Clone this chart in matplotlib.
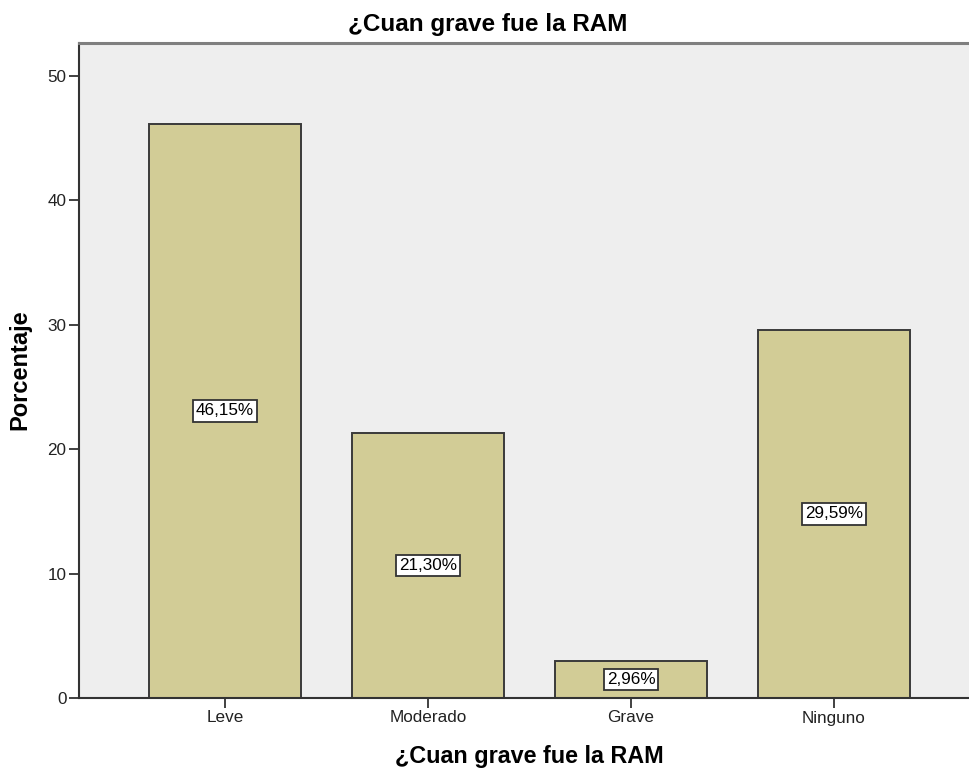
import matplotlib
matplotlib.use("Agg")
import matplotlib.pyplot as plt

categories = ["Leve", "Moderado", "Grave", "Ninguno"]
values = [46.15, 21.30, 2.96, 29.59]
labels = ["46,15%", "21,30%", "2,96%", "29,59%"]
yticks = [0, 10, 20, 30, 40, 50]
title = "¿Cuan grave fue la RAM"
xlabel = "¿Cuan grave fue la RAM"
ylabel = "Porcentaje"

plt.rcParams['font.family'] = ['Liberation Sans', 'DejaVu Sans']

fig = plt.figure(figsize=(9.7, 7.73), dpi=100)
ax = fig.add_axes([79/970, 1-698/773, 1-79/970, (698-43)/773])
ax.set_facecolor('#EEEEEE')

x = list(range(len(categories)))
ax.bar(x, values, width=0.749, color='#D2CC96', edgecolor='#3A3A3A', linewidth=1.4, zorder=2)
for xi, v, lab in zip(x, values, labels):
    ax.text(xi, v/2, lab, ha='center', va='center', fontsize=12.3, color='black', zorder=3,
            bbox=dict(boxstyle='square,pad=0.18', facecolor='white', edgecolor='#333333', linewidth=1.3))

ax.set_xlim(-0.719, 3.67)
ax.set_ylim(0, 52.65)
ax.set_yticks(yticks)
ax.set_xticks(x)
ax.set_xticklabels(categories, fontsize=12.3)
ax.tick_params(axis='y', labelsize=12.3, length=7, width=1.3, color='#333333', labelcolor='#222222', pad=2)
ax.tick_params(axis='x', length=7, width=1.3, color='#333333', labelcolor='#222222', pad=2)

ax.spines['right'].set_visible(False)
ax.spines['top'].set_color('#7F7F7F')
ax.spines['top'].set_linewidth(2.2)
ax.spines['left'].set_color('#333333')
ax.spines['left'].set_linewidth(1.5)
ax.spines['bottom'].set_color('#333333')
ax.spines['bottom'].set_linewidth(1.5)

fig.text(488/970, 1-24/773, title, ha='center', va='center', fontsize=17.5, fontweight='bold')
fig.text(529/970, 1-757/773, xlabel, ha='center', va='center', fontsize=16.8, fontweight='bold')
fig.text(20/970, 1-370/773, ylabel, ha='center', va='center', fontsize=17, fontweight='bold', rotation=90)

fig.savefig("out.png", dpi=100)
